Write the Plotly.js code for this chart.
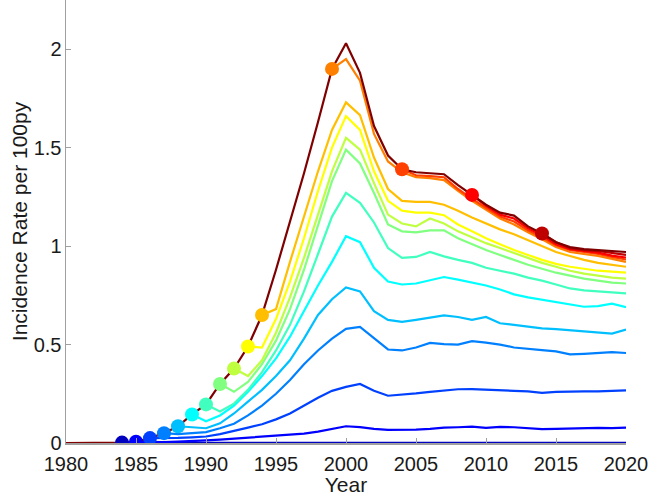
<!DOCTYPE html>
<html>
<head>
<meta charset="utf-8">
<script src="https://cdn.plot.ly/plotly-3.0.1.min.js"></script>
<style>html,body{margin:0;padding:0;background:#fff;}#chart{width:650px;height:496px;}</style>
</head>
<body>
<div id="chart"></div>
<script>
// ---- data ----
var years = [1980,1981,1982,1983,1984,1985,1986,1987,1988,1989,1990,1991,1992,1993,1994,1995,1996,1997,1998,1999,2000,2001,2002,2003,2004,2005,2006,2007,2008,2009,2010,2011,2012,2013,2014,2015,2016,2017,2018,2019,2020];
var overall = [0,0,0,0,0.002,0.006,0.025,0.05,0.085,0.145,0.196,0.30,0.378,0.49,0.65,0.88,1.12,1.37,1.63,1.90,2.03,1.88,1.61,1.46,1.39,1.375,1.37,1.365,1.31,1.26,1.21,1.17,1.155,1.10,1.064,1.02,0.995,0.985,0.98,0.975,0.97];
var cohortStarts = [1984,1985,1986,1987,1988,1989,1990,1991,1992,1993,1994,1999,2004,2009,2014];
var c1984 = [0.002,0.001,0.001,0.001,0.001,0.001,0.001,0.001,0.001,0.001,0.001,0.001,0.001,0.001,0.001,0.001,0.001,0.001,0.001,0.001,0.001,0.001,0.001,0.001,0.001,0.001,0.001,0.001,0.001,0.001,0.001,0.001,0.001,0.001,0.001,0.001,0.001];
var c1985 = [0.006,0.004,0.005,0.007,0.009,0.013,0.017,0.022,0.027,0.032,0.036,0.04,0.048,0.058,0.07,0.085,0.081,0.072,0.067,0.066,0.068,0.072,0.078,0.08,0.083,0.077,0.082,0.08,0.074,0.07,0.072,0.074,0.076,0.077,0.076,0.078];
var c1986 = [0.025,0.024,0.026,0.029,0.033,0.045,0.06,0.078,0.095,0.12,0.15,0.19,0.23,0.265,0.285,0.30,0.265,0.24,0.245,0.252,0.26,0.267,0.273,0.274,0.27,0.268,0.265,0.262,0.255,0.26,0.262,0.262,0.262,0.264,0.267];
var c1987 = [0.05,0.045,0.05,0.055,0.075,0.098,0.14,0.19,0.25,0.32,0.40,0.47,0.53,0.58,0.59,0.53,0.475,0.47,0.485,0.508,0.502,0.50,0.517,0.51,0.50,0.485,0.477,0.472,0.465,0.45,0.453,0.458,0.462,0.457];
var c1988 = [0.085,0.08,0.075,0.10,0.15,0.21,0.27,0.34,0.42,0.53,0.65,0.73,0.79,0.77,0.67,0.625,0.615,0.625,0.635,0.648,0.64,0.625,0.64,0.608,0.60,0.59,0.582,0.578,0.572,0.567,0.56,0.556,0.576];
var c1989 = [0.145,0.11,0.14,0.19,0.26,0.34,0.43,0.54,0.67,0.80,0.92,1.05,1.02,0.89,0.82,0.805,0.81,0.827,0.843,0.83,0.815,0.80,0.78,0.755,0.74,0.728,0.715,0.705,0.692,0.695,0.708,0.69];
var c1990 = [0.196,0.16,0.20,0.27,0.36,0.47,0.60,0.77,0.96,1.15,1.27,1.22,1.12,0.99,0.94,0.945,0.97,0.948,0.93,0.915,0.89,0.875,0.86,0.84,0.825,0.805,0.785,0.775,0.77,0.765,0.76];
var c1991 = [0.30,0.26,0.31,0.40,0.52,0.68,0.88,1.10,1.33,1.49,1.42,1.27,1.11,1.075,1.07,1.08,1.08,1.04,1.01,0.98,0.955,0.93,0.905,0.885,0.865,0.85,0.835,0.825,0.815,0.81];
var c1992 = [0.378,0.34,0.42,0.56,0.74,0.94,1.16,1.38,1.55,1.49,1.32,1.16,1.115,1.10,1.14,1.115,1.075,1.045,1.015,0.99,0.965,0.94,0.915,0.895,0.875,0.86,0.85,0.84,0.835];
var c1993 = [0.49,0.485,0.63,0.82,1.04,1.28,1.50,1.66,1.59,1.38,1.23,1.18,1.17,1.17,1.157,1.11,1.075,1.04,1.01,0.98,0.955,0.93,0.91,0.895,0.885,0.875,0.87,0.865];
var c1994 = [0.65,0.68,0.92,1.15,1.38,1.59,1.73,1.665,1.45,1.29,1.23,1.225,1.225,1.21,1.18,1.145,1.115,1.085,1.06,1.03,1.00,0.97,0.95,0.93,0.915,0.905,0.895];
var c1999 = [1.90,1.95,1.84,1.57,1.43,1.375,1.35,1.345,1.335,1.28,1.23,1.185,1.14,1.11,1.07,1.035,0.995,0.97,0.96,0.95,0.935,0.92];
var c2004 = [1.39,1.36,1.355,1.35,1.29,1.24,1.195,1.15,1.125,1.08,1.045,1.005,0.98,0.97,0.96,0.945,0.932];
var c2009 = [1.26,1.205,1.16,1.14,1.09,1.055,1.01,0.985,0.975,0.967,0.952,0.942];
var c2014 = [1.064,1.02,0.99,0.98,0.975,0.965,0.955];
var xTickVals = [1980,1985,1990,1995,2000,2005,2010,2015,2020];
var yTickVals = [0,0.5,1,1.5,2];
var yTickText = ['0','0.5','1','1.5','2'];

// ---- style ----
var cohortValues = [c1984,c1985,c1986,c1987,c1988,c1989,c1990,c1991,c1992,c1993,c1994,c1999,c2004,c2009,c2014];
var jet = ['rgb(0,0,191)','rgb(0,0,255)','rgb(0,64,255)','rgb(0,128,255)','rgb(0,191,255)','rgb(0,255,255)',
  'rgb(64,255,191)','rgb(128,255,128)','rgb(191,255,64)','rgb(255,255,0)','rgb(255,191,0)','rgb(255,128,0)',
  'rgb(255,64,0)','rgb(255,0,0)','rgb(191,0,0)','rgb(128,0,0)'];

var traces = [];
cohortStarts.forEach(function(s, i){
  var idx = years.indexOf(s);
  traces.push({x: years.slice(idx, idx + cohortValues[i].length), y: cohortValues[i], mode:'lines',
    line:{color: jet[i], width:2.2}, hoverinfo:'skip', showlegend:false});
});
traces.push({x: years, y: overall, mode:'lines', line:{color: jet[15], width:2.2}, showlegend:false});
traces.push({x: cohortStarts, y: cohortValues.map(function(v){return v[0];}), mode:'markers',
  marker:{size:14, color: jet.slice(0,15), line:{width:0}}, showlegend:false});

var tfont = {family:'Arial, "Liberation Sans", sans-serif', size:20, color:'#1a1a1a'};
var afont = {family:'Arial, "Liberation Sans", sans-serif', size:21, color:'#1a1a1a'};
var layout = {
  width:650, height:496,
  margin:{l:66, r:24, t:0, b:53},
  paper_bgcolor:'#fff', plot_bgcolor:'#fff',
  font: tfont,
  showlegend:false,
  xaxis:{range:[1980,2020], tickvals:xTickVals, ticktext:xTickVals.map(String), showgrid:false, zeroline:false,
    showline:true, linecolor:'#a0a0a0', linewidth:1.5, ticks:'inside', ticklen:5, tickcolor:'#a0a0a0',
    tickfont:tfont, ticklabelstandoff:2, title:{text:'Year', font:afont, standoff:5}},
  yaxis:{range:[0,2.25], tickvals:yTickVals, ticktext:yTickText, showgrid:false, zeroline:false,
    showline:true, linecolor:'#a0a0a0', linewidth:1.5, ticks:'inside', ticklen:5, tickcolor:'#a0a0a0',
    tickfont:tfont, ticklabelstandoff:-1, title:{text:'Incidence Rate per 100py', font:afont, standoff:0}}
};
Plotly.newPlot('chart', traces, layout, {displayModeBar:false, staticPlot:true});
</script>
</body>
</html>
